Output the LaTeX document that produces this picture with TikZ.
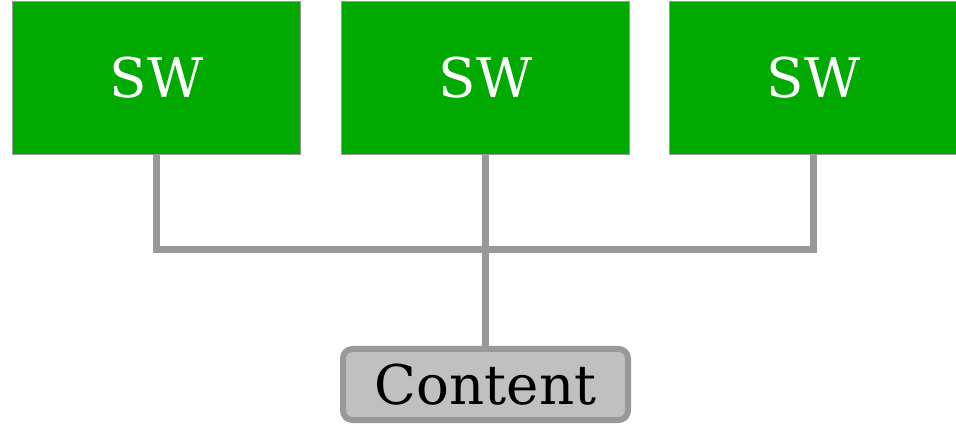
\documentclass[tikz,border=0pt]{standalone}
\usepackage{fontspec}
\setmainfont{DejaVu Serif}
\usetikzlibrary{backgrounds}
\definecolor{swgreen}{HTML}{00AA00}
\definecolor{linegray}{HTML}{999999}
\definecolor{contentgray}{HTML}{C0C0C0}
\begin{document}
\begin{tikzpicture}[x=0.75pt,y=-0.75pt,
  swbox/.style={draw=linegray,line width=1.1pt,fill=swgreen,text=white,
    minimum width=216pt,minimum height=114.75pt,inner sep=0pt,
    font=\fontsize{41}{48}\selectfont},
  contentbox/.style={draw=linegray,line width=4.5pt,fill=contentgray,
    rounded corners=7pt,minimum width=213.75pt,minimum height=53.25pt,
    inner sep=0pt,font=\fontsize{41}{48}\selectfont},
  conn/.style={draw=linegray,line width=5.25pt}]
\useasboundingbox (0,0) rectangle (956,427);
\node[swbox] (b1) at (156.5,78) {SW};
\node[swbox] (b2) at (485.5,78) {SW};
\node[swbox] (b3) at (813.5,78) {SW};
\node[contentbox] (c) at (485.5,384.5) {Content};
\coordinate (j) at (485.5,249.5);
\begin{scope}[on background layer]
\path[conn] (b1.south) |- (j) -| (b3.south);
\path[conn] (b2.south) -- (c.north);
\end{scope}
\end{tikzpicture}
\end{document}
